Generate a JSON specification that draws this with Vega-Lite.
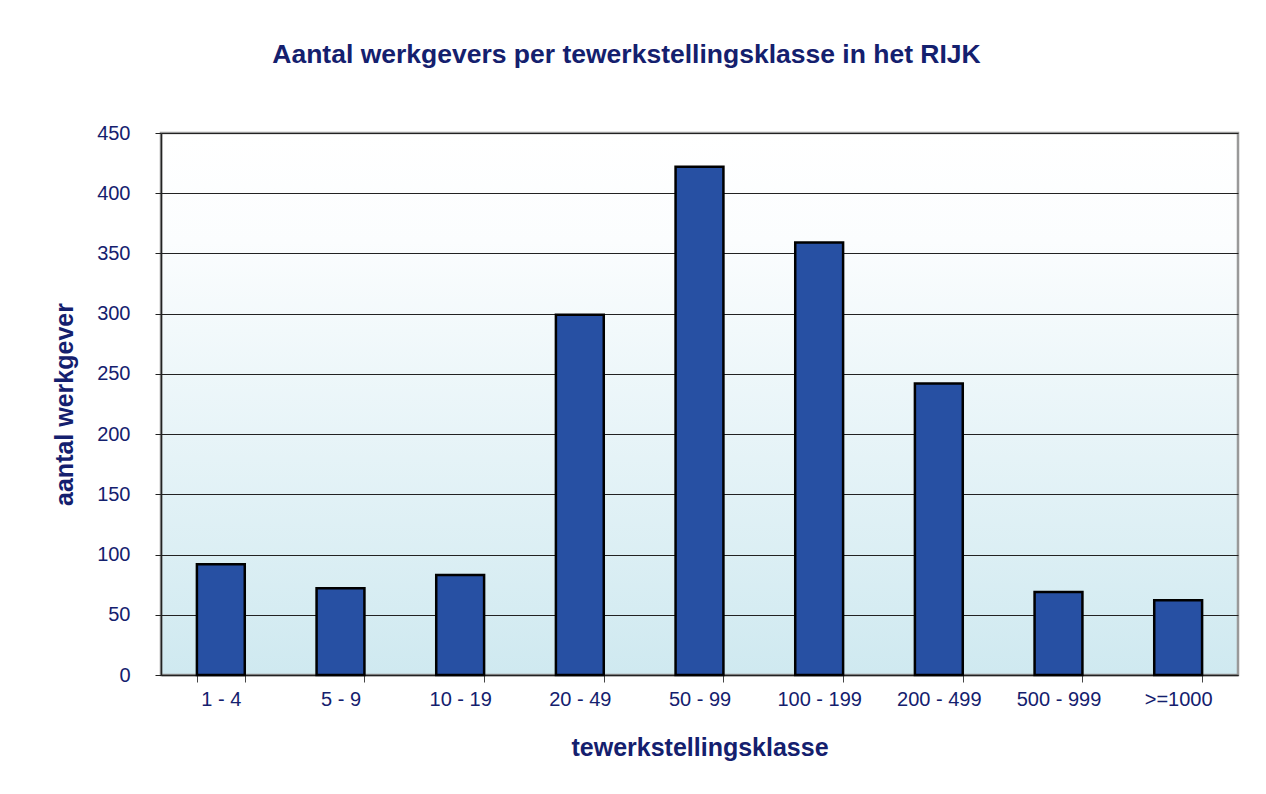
{
  "$schema": "https://vega.github.io/schema/vega-lite/v6.json",
  "autosize": "none",
  "width": 1077,
  "height": 542,
  "padding": {"left": 161, "top": 133, "right": 28, "bottom": 119},
  "background": "white",
  "title": {
    "text": "Aantal werkgevers per tewerkstellingsklasse in het RIJK",
    "font": "Liberation Sans",
    "fontSize": 26.5,
    "fontWeight": "bold",
    "color": "#14206e",
    "anchor": "middle",
    "dx": -73,
    "offset": 55
  },
  "data": {
    "values": [
      {"klasse": "1 - 4", "aantal": 92},
      {"klasse": "5 - 9", "aantal": 72},
      {"klasse": "10 - 19", "aantal": 83},
      {"klasse": "20 - 49", "aantal": 299},
      {"klasse": "50 - 99", "aantal": 422},
      {"klasse": "100 - 199", "aantal": 359},
      {"klasse": "200 - 499", "aantal": 242},
      {"klasse": "500 - 999", "aantal": 69},
      {"klasse": ">=1000", "aantal": 62}
    ]
  },
  "mark": {"type": "bar", "color": "#2750a3", "stroke": "#000000", "strokeWidth": 2.5},
  "encoding": {
    "x": {
      "field": "klasse",
      "type": "nominal",
      "sort": null,
      "scale": {"paddingInner": 0.6, "paddingOuter": 0.3},
      "axis": {
        "title": "tewerkstellingsklasse",
        "labelAngle": 0,
        "tickBand": "extent",
        "tickSize": 7,
        "tickColor": "#444444",
        "domainColor": "#222222",
        "domainWidth": 1.5,
        "labelPadding": 7,
        "titlePadding": 26
      }
    },
    "y": {
      "field": "aantal",
      "type": "quantitative",
      "scale": {"domain": [0, 450], "nice": false},
      "axis": {
        "title": "aantal werkgever",
        "values": [0, 50, 100, 150, 200, 250, 300, 350, 400, 450],
        "tickSize": 6,
        "tickColor": "#222222",
        "domainColor": "#222222",
        "domainWidth": 1.5,
        "labelPadding": 25,
        "titlePadding": 19,
        "grid": true,
        "gridColor": "#222222",
        "gridWidth": 1
      }
    }
  },
  "config": {
    "view": {
      "fill": {
        "gradient": "linear",
        "x1": 0, "y1": 0, "x2": 0, "y2": 1,
        "stops": [
          {"offset": 0, "color": "#ffffff"},
          {"offset": 0.2, "color": "#fbfdfe"},
          {"offset": 1, "color": "#cfe9f0"}
        ]
      },
      "stroke": "#999999",
      "strokeWidth": 2.5
    },
    "axis": {
      "labelFont": "Liberation Sans",
      "labelFontSize": 20,
      "labelColor": "#14206e",
      "titleFont": "Liberation Sans",
      "titleFontSize": 25,
      "titleFontWeight": "bold",
      "titleColor": "#14206e"
    },
    "axisX": {"grid": false}
  }
}
